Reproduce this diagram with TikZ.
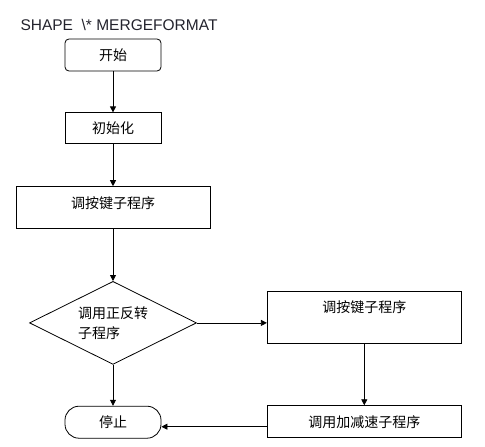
\documentclass[tikz,border=0pt]{standalone}
\usepackage{fontspec}
\setmainfont{Liberation Sans}
\newfontfamily\cjk{Noto Sans CJK SC}
\usepackage{xcolor}
\usetikzlibrary{shapes.geometric, arrows.meta, positioning, calc}
\definecolor{titlegray}{RGB}{35,35,45}
\newcommand{\cjkfont}{\cjk\fontsize{14}{20}\selectfont}

\begin{document}
\begin{tikzpicture}[
        box/.style={rectangle, draw, line width=0.8pt, minimum height=31pt, minimum width=96pt, inner sep=0pt, align=center, font=\cjkfont},
        roundbox/.style={box, rounded corners=4pt},
        stopbox/.style={box, minimum height=32pt, rounded corners=14pt},
        widebox/.style={box, minimum width=194pt},
        decision/.style={diamond, draw, line width=0.8pt, aspect=2, minimum width=167pt, minimum height=83pt, inner sep=0pt, align=left, font=\cjkfont},
        arrow/.style={-{Triangle[width=6pt,length=6pt]}, line width=0.8pt},
        node distance=41pt and 70pt
    ]
        \useasboundingbox (0,0) rectangle (485pt,-447pt);
        \node[anchor=west, text=titlegray, font=\fontsize{15.5}{18}\selectfont] (title) at (17pt,-25pt) {SHAPE\ \ \textbackslash* MERGEFORMAT};

        \node[roundbox, minimum height=32pt] (start) at (113pt,-55pt) {开始};
        \node[box, below=of start] (init) {初始化};
        \node[widebox, below=42pt of init, text height=22.3pt, text depth=19.7pt] (keys) {调按键子程序};
        \node[decision, below=52pt of keys] (turn) {调用正反转\\子程序};
        \node[stopbox, below=of turn] (stop) {停止};
        \node[widebox, right=of turn, yshift=6pt, text height=21.3pt, text depth=30.7pt] (keystwo) {调按键子程序};
        \node[widebox, minimum height=32pt, below=62pt of keystwo] (speed) {调用加减速子程序};

        \draw[arrow] (start.south) -- (init.north);
        \draw[arrow] (init.south) -- (keys.north);
        \draw[arrow] (keys.south) -- (turn.north);
        \draw[arrow] (turn.south) -- (stop.north);
        \draw[arrow] (turn.east) -- (turn.east -| keystwo.west);
        \draw[arrow] (keystwo.south) -- (speed.north);
        \draw[arrow] ([yshift=-5pt]speed.west) -- ([yshift=-5pt]speed.west -| stop.east);
    \end{tikzpicture}
\end{document}
